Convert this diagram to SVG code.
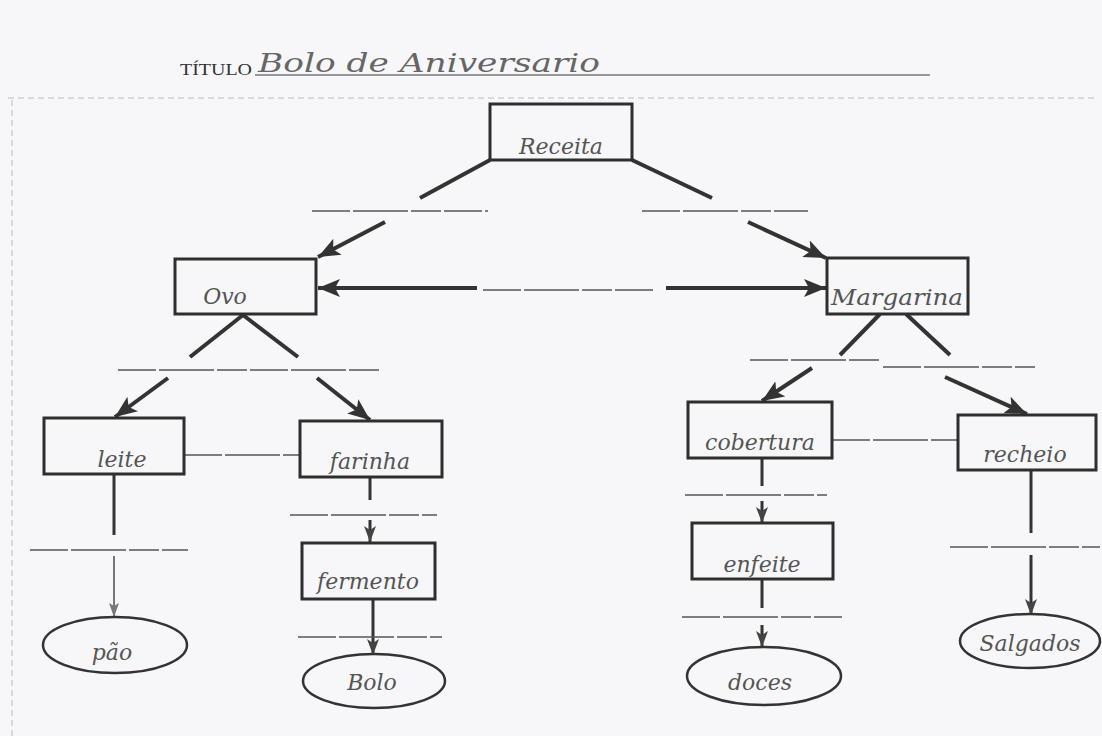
<svg xmlns="http://www.w3.org/2000/svg" width="1102" height="736" viewBox="0 0 1102 736">
<style>
.box{fill:none;stroke:#2e2e2e;stroke-width:3}
.ell{fill:none;stroke:#333;stroke-width:2.5}
.hw{font-family:"DejaVu Serif","Liberation Serif",serif;font-style:italic;fill:#555;font-size:22px;text-anchor:middle}
.ln{stroke:#333;stroke-width:4;fill:none}
.lnv{stroke:#333;stroke-width:3;fill:none}
.blank{stroke:#555;stroke-width:1.4;stroke-dasharray:38 3 55 3 30 3;fill:none}
.faint{stroke:#bbb;stroke-width:1;stroke-dasharray:6 4;fill:none}
</style>
<defs>
<marker id="ah" markerUnits="userSpaceOnUse" markerWidth="24" markerHeight="20" refX="22" refY="10" orient="auto">
<path d="M0,1 L22,10 L0,19 L5,10 Z" fill="#333"/>
</marker>
<marker id="ahs" markerUnits="userSpaceOnUse" markerWidth="18" markerHeight="14" refX="16" refY="7" orient="auto">
<path d="M0,1 L16,7 L0,13 L4,7 Z" fill="#444"/>
</marker>
<marker id="ahg" markerUnits="userSpaceOnUse" markerWidth="16" markerHeight="12" refX="14" refY="6" orient="auto">
<path d="M0,1 L14,6 L0,11 L3,6 Z" fill="#777"/>
</marker>
</defs>
<rect width="1102" height="736" fill="#f7f7f9"/>
<line class="faint" x1="8" y1="98" x2="1098" y2="98"/>
<line class="faint" x1="12" y1="100" x2="12" y2="736"/>
<g id="title">
<text x="180" y="75" font-family="Liberation Serif, serif" font-size="16" fill="#333" textLength="72" lengthAdjust="spacingAndGlyphs">TÍTULO</text>
<text x="258" y="72" font-family="DejaVu Serif, Liberation Serif, serif" font-style="italic" font-size="26" fill="#666" textLength="342" lengthAdjust="spacingAndGlyphs">Bolo de Aniversario</text>
<line x1="255" y1="75" x2="930" y2="75" stroke="#777" stroke-width="1.5"/>
</g>
<g id="connectors">
<line class="ln" x1="490" y1="160" x2="420" y2="198"/>
<line class="ln" x1="632" y1="160" x2="712" y2="198"/>
<line class="ln" x1="385" y1="222" x2="318" y2="257" marker-end="url(#ah)"/>
<line class="ln" x1="748" y1="222" x2="826" y2="258" marker-end="url(#ah)"/>
<line class="ln" x1="477" y1="288" x2="318" y2="288" marker-end="url(#ah)"/>
<line class="ln" x1="666" y1="288" x2="826" y2="288" marker-end="url(#ah)"/>
<line class="ln" x1="243" y1="315" x2="190" y2="357"/>
<line class="ln" x1="243" y1="315" x2="298" y2="357"/>
<line class="ln" x1="168" y1="378" x2="115" y2="417" marker-end="url(#ah)"/>
<line class="ln" x1="317" y1="378" x2="370" y2="420" marker-end="url(#ah)"/>
<line class="ln" x1="880" y1="314" x2="840" y2="355"/>
<line class="ln" x1="906" y1="314" x2="950" y2="355"/>
<line class="ln" x1="812" y1="368" x2="762" y2="401" marker-end="url(#ah)"/>
<line class="ln" x1="945" y1="377" x2="1027" y2="414" marker-end="url(#ah)"/>
<line class="lnv" x1="114" y1="475" x2="114" y2="535"/>
<line stroke="#777" stroke-width="2" x1="114" y1="556" x2="114" y2="617" marker-end="url(#ahg)"/>
<line class="lnv" x1="370" y1="478" x2="370" y2="500"/>
<line class="lnv" x1="370" y1="520" x2="370" y2="542" marker-end="url(#ahs)"/>
<line class="lnv" x1="373" y1="599" x2="373" y2="655" marker-end="url(#ahs)"/>
<line class="lnv" x1="762" y1="458" x2="762" y2="486"/>
<line class="lnv" x1="762" y1="501" x2="762" y2="523" marker-end="url(#ahs)"/>
<line class="lnv" x1="762" y1="579" x2="762" y2="608"/>
<line class="lnv" x1="762" y1="625" x2="762" y2="647" marker-end="url(#ahs)"/>
<line class="lnv" x1="1031" y1="470" x2="1031" y2="533"/>
<line class="lnv" x1="1031" y1="555" x2="1031" y2="615" marker-end="url(#ahs)"/>
<line class="blank" x1="184" y1="455" x2="300" y2="455"/>
<line class="blank" x1="832" y1="440" x2="958" y2="440"/>
</g>
<g id="blanks">
<line class="blank" x1="312" y1="211" x2="488" y2="211"/>
<line class="blank" x1="642" y1="211" x2="808" y2="211"/>
<line class="blank" x1="483" y1="290" x2="655" y2="290"/>
<line class="blank" x1="118" y1="370" x2="380" y2="370"/>
<line class="blank" x1="750" y1="360" x2="880" y2="360"/>
<line class="blank" x1="883" y1="367" x2="1035" y2="367"/>
<line class="blank" x1="30" y1="550" x2="188" y2="550"/>
<line class="blank" x1="290" y1="515" x2="437" y2="515"/>
<line class="blank" x1="298" y1="637" x2="442" y2="637"/>
<line class="blank" x1="685" y1="495" x2="827" y2="495"/>
<line class="blank" x1="682" y1="617" x2="842" y2="617"/>
<line class="blank" x1="950" y1="547" x2="1100" y2="547"/>
</g>
<g id="receita"><rect class="box" x="490" y="104" width="142" height="56"/><text class="hw" x="561" y="154">Receita</text></g>
<g id="ovo"><rect class="box" x="175" y="259" width="141" height="55"/><text class="hw" x="225" y="304">Ovo</text></g>
<g id="margarina"><rect class="box" x="827" y="258" width="141" height="56"/><text class="hw" x="897" y="305" textLength="132" lengthAdjust="spacingAndGlyphs">Margarina</text></g>
<g id="leite"><rect class="box" x="44" y="418" width="140" height="56"/><text class="hw" x="122" y="467">leite</text></g>
<g id="farinha"><rect class="box" x="300" y="421" width="142" height="56"/><text class="hw" x="370" y="469">farinha</text></g>
<g id="fermento"><rect class="box" x="302" y="543" width="133" height="56"/><text class="hw" x="368" y="589">fermento</text></g>
<g id="cobertura"><rect class="box" x="688" y="402" width="144" height="56"/><text class="hw" x="760" y="450">cobertura</text></g>
<g id="recheio"><rect class="box" x="958" y="415" width="138" height="55"/><text class="hw" x="1025" y="462">recheio</text></g>
<g id="enfeite"><rect class="box" x="692" y="523" width="141" height="56"/><text class="hw" x="762" y="572">enfeite</text></g>
<g id="pao"><ellipse class="ell" cx="115" cy="645" rx="72" ry="28"/><text class="hw" x="112" y="660">pão</text></g>
<g id="bolo"><ellipse class="ell" cx="374" cy="681" rx="71" ry="27"/><text class="hw" x="372" y="690" font-style="normal">Bolo</text></g>
<g id="doces"><ellipse class="ell" cx="764" cy="676" rx="77" ry="29"/><text class="hw" x="760" y="690">doces</text></g>
<g id="salgados"><ellipse class="ell" cx="1030" cy="641" rx="70" ry="27"/><text class="hw" x="1030" y="651">Salgados</text></g>
</svg>
